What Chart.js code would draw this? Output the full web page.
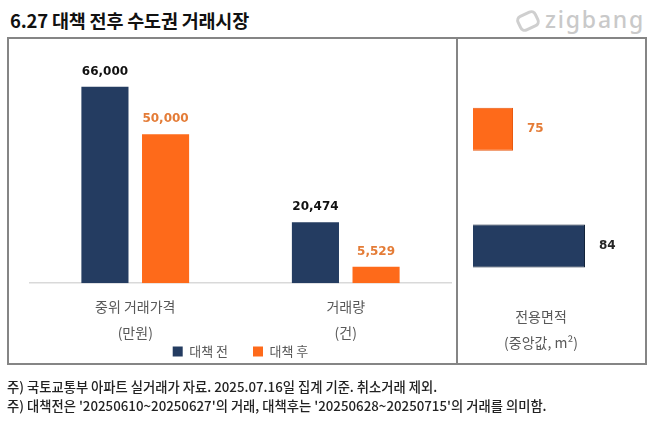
<!DOCTYPE html>
<html>
<head>
<meta charset="utf-8">
<script src="https://cdn.jsdelivr.net/npm/chart.js@4.4.1/dist/chart.umd.min.js"></script>
<style>
    body { margin: 0; width: 658px; height: 425px; background: #fff; position: relative; overflow: hidden; font-family: "Noto Sans CJK KR", sans-serif; }
    .title { position: absolute; left: 10px; top: 8px; font-size: 18.5px; font-weight: bold; color: #111; line-height: 24px; letter-spacing: -0.2px; }
    .logo { position: absolute; left: 545px; top: 5px; font-family: "Noto Sans", sans-serif; font-size: 23px; font-weight: 500; color: #c9c9c9; letter-spacing: 1.8px; line-height: 28px; }
    .logo-icon { position: absolute; left: 517px; top: 12px; width: 16px; height: 12px; border: 3px solid #cfcfcf; border-radius: 6px; transform: rotate(-25deg); }
    .panel { position: absolute; top: 37px; height: 328px; box-sizing: border-box; border: 2px solid #858585; }
    #leftPanel { left: 7px; width: 451px; }
    #rightPanel { left: 456px; width: 191px; }
    canvas { position: absolute; }
    #priceChart { left: 9px; top: 38px; }
    #areaChart { left: 458px; top: 38px; }
    .note { position: absolute; left: 7px; font-size: 13.3px; font-weight: 500; color: #222; line-height: 18px; white-space: nowrap; }
</style>
</head>
<body>
<div class="title">6.27 대책 전후 수도권 거래시장</div>
<div class="logo-icon"></div>
<div class="logo">zigbang</div>
<div class="panel" id="leftPanel"></div>
<div class="panel" id="rightPanel"></div>
<canvas id="priceChart" width="447" height="367"></canvas>
<canvas id="areaChart" width="187" height="335"></canvas>
<div class="note" style="top: 378px;">주) 국토교통부 아파트 실거래가 자료. 2025.07.16일 집계 기준. 취소거래 제외.</div>
<div class="note" style="top: 397px;">주) 대책전은 '20250610~20250627'의 거래, 대책후는 '20250628~20250715'의 거래를 의미함.</div>

<script>
// 카테고리 / 시리즈
const categories = [['중위 거래가격', '(만원)'], ['거래량', '(건)']];
const seriesNames = ['대책 전', '대책 후'];
const beforeValues = [66000, 20474];
const afterValues = [50000, 5529];

// 전용면적 (중앙값)
const areaTitle = ['전용면적', '(중앙값, m²)'];
const areaLabels = ['대책 후', '대책 전'];
const areaValues = [75, 84];

const NAVY = '#243c61';
const ORANGE = '#fe6a1a';
const ORANGE_TEXT = '#e47c37';
const GRAY_TEXT = '#595959';

// Value labels drawn above / beside each bar
const valueLabels = {
    id: 'valueLabels',
    afterDatasetsDraw(chart, args, opts) {
        const ctx = chart.ctx;
        ctx.save();
        ctx.font = 'bold 12px "DejaVu Sans"';
        chart.data.datasets.forEach((ds, di) => {
            const meta = chart.getDatasetMeta(di);
            meta.data.forEach((bar, i) => {
                const text = ds.data[i].toLocaleString('en-US');
                ctx.fillStyle = Array.isArray(ds.labelColor) ? ds.labelColor[i] : ds.labelColor;
                ctx.textBaseline = 'middle';
                if (opts.horizontal) {
                    ctx.textAlign = 'left';
                    ctx.fillText(text, bar.x + 14, bar.y);
                } else {
                    ctx.textAlign = 'center';
                    ctx.fillText(text, bar.x, bar.y - 15);
                }
            });
        });
        ctx.restore();
    }
};

// legend keeps its wide item spacing but sits right under the tick labels
const legendShift = {
    id: 'legendShift',
    afterLayout(chart, args, opts) {
        if (chart.legend && opts.dy) {
            chart.legend.top -= opts.dy;
            chart.legend.bottom -= opts.dy;
        }
    }
};

new Chart(document.getElementById('priceChart'), {
    type: 'bar',
    data: {
        labels: categories,
        datasets: [
            { label: seriesNames[0], data: beforeValues, backgroundColor: NAVY, borderWidth: 0, labelColor: '#111' },
            { label: seriesNames[1], data: afterValues, backgroundColor: ORANGE, borderWidth: 0, labelColor: ORANGE_TEXT }
        ]
    },
    options: {
        responsive: false,
        animation: false,
        events: [],
        barPercentage: 0.777,
        categoryPercentage: 0.576,
        layout: { padding: { left: 21, right: 5, top: 7, bottom: 0 } },
        scales: {
            x: {
                grid: { display: false, drawTicks: false },
                border: { display: true, color: '#d9d9d9', width: 1.5 },
                ticks: {
                    padding: 11,
                    color: GRAY_TEXT,
                    font: { family: '"Noto Sans CJK KR"', size: 14, lineHeight: 1.85 }
                }
            },
            y: { display: false, min: 0, max: 80000 }
        },
        plugins: {
            legend: {
                position: 'bottom',
                labels: {
                    boxWidth: 10,
                    boxHeight: 10,
                    padding: 25,
                    color: GRAY_TEXT,
                    font: { family: '"Noto Sans CJK KR"', size: 13 }
                }
            },
            tooltip: { enabled: false },
            valueLabels: { horizontal: false },
            legendShift: { dy: 37 }
        }
    },
    plugins: [valueLabels, legendShift]
});

new Chart(document.getElementById('areaChart'), {
    type: 'bar',
    data: {
        labels: areaLabels,
        datasets: [{
            label: '전용면적',
            data: areaValues,
            backgroundColor: [ORANGE, NAVY],
            borderColor: ['#e85a10', '#12233a'],
            borderWidth: 1,
            borderSkipped: false,
            labelColor: [ORANGE_TEXT, '#262626']
        }]
    },
    options: {
        indexAxis: 'y',
        responsive: false,
        animation: false,
        events: [],
        barPercentage: 0.369,
        categoryPercentage: 1,
        layout: { padding: { left: 15, right: 36, top: 33, bottom: 17 } },
        scales: {
            x: {
                min: 70,
                max: 87,
                grid: { display: false, drawTicks: false },
                border: { display: false },
                ticks: { display: false },
                title: {
                    display: true,
                    text: areaTitle,
                    color: GRAY_TEXT,
                    padding: { top: 0, bottom: 0 },
                    font: { family: '"Noto Sans CJK KR"', size: 14, lineHeight: 1.85 }
                }
            },
            y: { display: false }
        },
        plugins: {
            legend: { display: false },
            tooltip: { enabled: false },
            valueLabels: { horizontal: true }
        }
    },
    plugins: [valueLabels]
});
</script>
</body>
</html>
